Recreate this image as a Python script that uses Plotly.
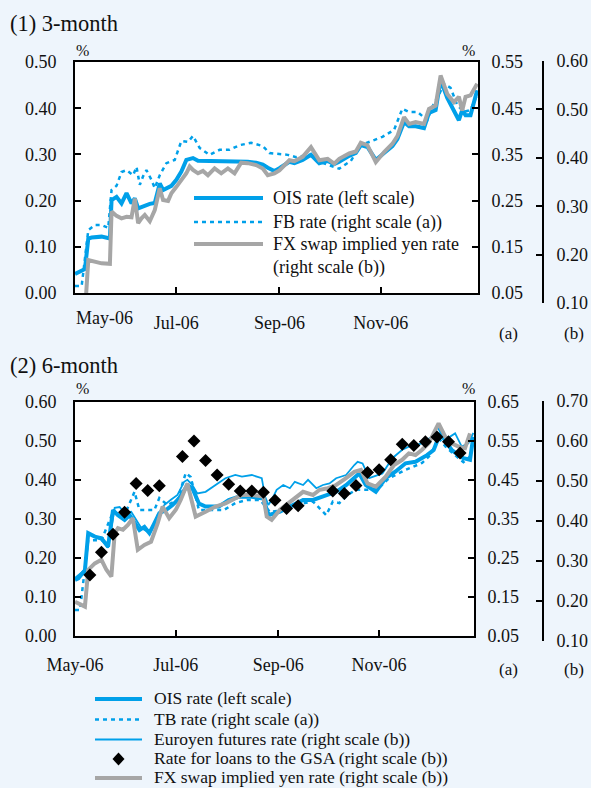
import plotly.graph_objects as go

BG = "#EEF5FC"
BLUE = "#00A0E9"
GRAY = "#A6A6A6"
INK = "#111111"
FONT = "Liberation Serif"

# ---------------- Panel (1) 3-month ----------------
p1_dates = ["2006-05-01", "2006-05-07", "2006-05-09", "2006-05-11", "2006-05-17", "2006-05-22", "2006-05-23", "2006-05-26", "2006-05-29",
            "2006-06-01", "2006-06-04", "2006-06-06", "2006-06-08", "2006-06-10", "2006-06-12", "2006-06-15", "2006-06-18", "2006-06-21", "2006-06-23", "2006-06-26", "2006-06-28",
            "2006-07-01", "2006-07-04", "2006-07-07", "2006-07-09", "2006-07-11", "2006-07-14", "2006-07-17", "2006-07-20", "2006-07-24", "2006-07-28",
            "2006-08-01", "2006-08-05", "2006-08-09", "2006-08-13", "2006-08-18", "2006-08-22", "2006-08-25", "2006-08-29",
            "2006-09-01", "2006-09-07", "2006-09-10", "2006-09-15", "2006-09-20", "2006-09-25", "2006-09-30",
            "2006-10-04", "2006-10-07", "2006-10-13", "2006-10-17", "2006-10-20", "2006-10-24", "2006-10-29",
            "2006-11-03", "2006-11-08", "2006-11-11", "2006-11-15", "2006-11-18", "2006-11-22", "2006-11-27", "2006-11-30",
            "2006-12-04", "2006-12-07", "2006-12-11", "2006-12-15", "2006-12-18", "2006-12-20", "2006-12-22", "2006-12-25", "2006-12-29"]
p1_ois = [0.041, 0.052, 0.118, 0.120, 0.122, 0.118, 0.201, 0.208, 0.194,
          0.216, 0.194, 0.205, 0.183, 0.186, 0.190, 0.193, 0.195, 0.237, 0.223, 0.228, 0.232,
          0.245, 0.263, 0.288, 0.291, 0.292, 0.286, 0.286, 0.285, 0.284, 0.286,
          0.286, 0.285, 0.284, 0.284, 0.282, 0.278, 0.271, 0.264,
          0.270, 0.284, 0.281, 0.288, 0.299, 0.281, 0.286,
          0.279, 0.284, 0.297, 0.303, 0.320, 0.316, 0.288,
          0.303, 0.318, 0.333, 0.370, 0.361, 0.361, 0.357, 0.390,
          0.396, 0.461, 0.422, 0.396, 0.374, 0.396, 0.385, 0.385, 0.439]
p1_fx = [0.080, 0.080, 0.189, 0.187, 0.182, 0.181, 0.289, 0.280, 0.275,
         0.278, 0.277, 0.316, 0.265, 0.275, 0.282, 0.269, 0.292, 0.337, 0.313, 0.311, 0.327,
         0.340, 0.354, 0.368, 0.382, 0.375, 0.368, 0.373, 0.364, 0.378, 0.368,
         0.378, 0.368, 0.390, 0.389, 0.385, 0.378, 0.364, 0.368,
         0.374, 0.395, 0.393, 0.402, 0.422, 0.395, 0.398,
         0.388, 0.398, 0.409, 0.413, 0.431, 0.426, 0.391,
         0.412, 0.429, 0.445, 0.484, 0.470, 0.474, 0.470, 0.501,
         0.508, 0.570, 0.532, 0.515, 0.526, 0.498, 0.526, 0.529, 0.553]
p1_fb_dates = ["2006-05-01", "2006-05-05", "2006-05-09", "2006-05-13", "2006-05-17", "2006-05-21", "2006-05-23", "2006-05-26", "2006-05-29",
               "2006-06-01", "2006-06-05", "2006-06-07", "2006-06-09", "2006-06-11", "2006-06-13", "2006-06-16", "2006-06-18", "2006-06-21", "2006-06-25", "2006-06-30",
               "2006-07-04", "2006-07-08", "2006-07-11", "2006-07-15", "2006-07-21", "2006-07-27",
               "2006-08-02", "2006-08-08", "2006-08-15", "2006-08-22", "2006-08-26", "2006-08-31",
               "2006-09-06", "2006-09-11", "2006-09-19", "2006-09-25",
               "2006-10-01", "2006-10-07", "2006-10-14", "2006-10-20", "2006-10-28",
               "2006-11-02", "2006-11-09", "2006-11-14", "2006-11-18", "2006-11-23", "2006-11-29",
               "2006-12-02", "2006-12-06", "2006-12-09", "2006-12-13", "2006-12-17", "2006-12-21", "2006-12-25", "2006-12-29"]
p1_fb = [0.065, 0.065, 0.186, 0.197, 0.197, 0.191, 0.273, 0.282, 0.312,
         0.316, 0.305, 0.323, 0.284, 0.303, 0.316, 0.295, 0.277, 0.305, 0.331, 0.338,
         0.379, 0.377, 0.390, 0.364, 0.349, 0.360,
         0.360, 0.370, 0.375, 0.368, 0.353, 0.351,
         0.349, 0.344, 0.349, 0.334,
         0.327, 0.319, 0.336, 0.370, 0.381,
         0.388, 0.403, 0.449, 0.442, 0.442, 0.424,
         0.453, 0.479, 0.503, 0.494, 0.457, 0.442, 0.446, 0.479]

# ---------------- Panel (2) 6-month ----------------
p2_ois_dates = ["2006-05-01", "2006-05-03", "2006-05-07", "2006-05-09", "2006-05-13", "2006-05-17", "2006-05-21", "2006-05-24", "2006-05-27", "2006-05-31",
                "2006-06-03", "2006-06-06", "2006-06-09", "2006-06-12", "2006-06-15", "2006-06-18", "2006-06-21", "2006-06-25", "2006-06-29",
                "2006-07-03", "2006-07-08", "2006-07-11", "2006-07-15", "2006-07-19", "2006-07-27",
                "2006-08-02", "2006-08-08", "2006-08-16", "2006-08-23", "2006-08-26", "2006-08-30",
                "2006-09-02", "2006-09-08", "2006-09-16", "2006-09-22", "2006-09-28",
                "2006-10-06", "2006-10-12", "2006-10-20", "2006-10-24", "2006-10-30",
                "2006-11-05", "2006-11-11", "2006-11-17", "2006-11-23", "2006-11-30",
                "2006-12-04", "2006-12-08", "2006-12-12", "2006-12-15", "2006-12-19", "2006-12-22", "2006-12-26", "2006-12-28"]
p2_ois = [0.143, 0.147, 0.168, 0.263, 0.254, 0.250, 0.228, 0.322, 0.309, 0.297,
          0.309, 0.288, 0.271, 0.279, 0.263, 0.288, 0.314, 0.322, 0.335,
          0.352, 0.386, 0.378, 0.339, 0.331, 0.331,
          0.348, 0.356, 0.356, 0.352, 0.309, 0.314,
          0.318, 0.331, 0.348, 0.348, 0.356,
          0.369, 0.386, 0.416, 0.386, 0.369,
          0.404, 0.421, 0.442, 0.446, 0.463,
          0.476, 0.519, 0.493, 0.476, 0.463, 0.455, 0.451, 0.510]
p2_tb_dates = ["2006-05-01", "2006-05-04", "2006-05-09", "2006-05-17", "2006-05-24", "2006-05-31",
               "2006-06-06", "2006-06-09", "2006-06-18", "2006-06-21", "2006-06-26",
               "2006-07-02", "2006-07-07", "2006-07-10", "2006-07-15", "2006-07-24", "2006-07-30",
               "2006-08-06", "2006-08-13", "2006-08-21", "2006-08-27",
               "2006-09-03", "2006-09-10", "2006-09-17", "2006-09-22", "2006-09-30",
               "2006-10-04", "2006-10-08", "2006-10-13", "2006-10-18", "2006-10-25",
               "2006-11-01", "2006-11-07", "2006-11-17", "2006-11-27",
               "2006-12-02", "2006-12-07", "2006-12-12", "2006-12-17", "2006-12-22", "2006-12-27"]
p2_tb = [0.116, 0.116, 0.295, 0.295, 0.367, 0.359,
         0.419, 0.372, 0.372, 0.403, 0.385,
         0.398, 0.467, 0.457, 0.372, 0.372, 0.372,
         0.390, 0.398, 0.398, 0.367,
         0.372, 0.385, 0.390, 0.394, 0.359,
         0.394, 0.390, 0.411, 0.424, 0.424,
         0.429, 0.454, 0.475, 0.493,
         0.513, 0.557, 0.531, 0.513, 0.495, 0.513]
p2_ey_dates = ["2006-05-01", "2006-05-07", "2006-05-09", "2006-05-13", "2006-05-17", "2006-05-21", "2006-05-25", "2006-05-28", "2006-05-31",
               "2006-06-04", "2006-06-07", "2006-06-10", "2006-06-14", "2006-06-17", "2006-06-20", "2006-06-24", "2006-06-28",
               "2006-07-02", "2006-07-06", "2006-07-08", "2006-07-11", "2006-07-14", "2006-07-19", "2006-07-25", "2006-07-31",
               "2006-08-06", "2006-08-10", "2006-08-16", "2006-08-22", "2006-08-24", "2006-08-26", "2006-08-28", "2006-08-31",
               "2006-09-04", "2006-09-08", "2006-09-11", "2006-09-16", "2006-09-19", "2006-09-24", "2006-09-28",
               "2006-10-02", "2006-10-06", "2006-10-12", "2006-10-17", "2006-10-19", "2006-10-22", "2006-10-26",
               "2006-11-03", "2006-11-09", "2006-11-15", "2006-11-19", "2006-11-27",
               "2006-12-03", "2006-12-06", "2006-12-11", "2006-12-17", "2006-12-21", "2006-12-25", "2006-12-28"]
p2_ey = [0.258, 0.278, 0.370, 0.360, 0.353, 0.333, 0.433, 0.435, 0.420,
         0.423, 0.403, 0.383, 0.373, 0.383, 0.415, 0.440, 0.453,
         0.465, 0.498, 0.503, 0.490, 0.469, 0.473, 0.490, 0.507,
         0.515, 0.511, 0.515, 0.507, 0.461, 0.440, 0.453, 0.478,
         0.490, 0.482, 0.498, 0.490, 0.503, 0.482, 0.490,
         0.494, 0.507, 0.515, 0.540, 0.548, 0.544, 0.507,
         0.519, 0.557, 0.578, 0.586, 0.594,
         0.611, 0.636, 0.603, 0.619, 0.586, 0.594, 0.620]
p2_gsa_dates = ["2006-05-10", "2006-05-17", "2006-05-24", "2006-05-31", "2006-06-07", "2006-06-14", "2006-06-21",
                "2006-07-05", "2006-07-12", "2006-07-19", "2006-07-26", "2006-08-02", "2006-08-09", "2006-08-16",
                "2006-08-23", "2006-08-30", "2006-09-06", "2006-09-13", "2006-10-04", "2006-10-11", "2006-10-18",
                "2006-10-25", "2006-11-01", "2006-11-08", "2006-11-15", "2006-11-22", "2006-11-29", "2006-12-06",
                "2006-12-13", "2006-12-20"]
p2_gsa = [0.265, 0.322, 0.367, 0.422, 0.494, 0.476, 0.488,
          0.561, 0.600, 0.551, 0.515, 0.492, 0.475, 0.475,
          0.472, 0.452, 0.431, 0.438, 0.475, 0.469, 0.489,
          0.521, 0.528, 0.553, 0.592, 0.589, 0.598, 0.610,
          0.598, 0.570]
p2_fx_dates = ["2006-05-01", "2006-05-07", "2006-05-09", "2006-05-13", "2006-05-17", "2006-05-20", "2006-05-23", "2006-05-25", "2006-05-27", "2006-05-30",
               "2006-06-02", "2006-06-05", "2006-06-08", "2006-06-12", "2006-06-16", "2006-06-20", "2006-06-23", "2006-06-27",
               "2006-07-01", "2006-07-04", "2006-07-08", "2006-07-13", "2006-07-19", "2006-07-25", "2006-07-31",
               "2006-08-06", "2006-08-10", "2006-08-16", "2006-08-23", "2006-08-25", "2006-08-28",
               "2006-09-02", "2006-09-08", "2006-09-12", "2006-09-16", "2006-09-22", "2006-09-26",
               "2006-10-01", "2006-10-06", "2006-10-12", "2006-10-17", "2006-10-21", "2006-10-25", "2006-10-30",
               "2006-11-05", "2006-11-10", "2006-11-15", "2006-11-19", "2006-11-23", "2006-11-27",
               "2006-12-01", "2006-12-05", "2006-12-07", "2006-12-11", "2006-12-15", "2006-12-19", "2006-12-23", "2006-12-26"]
p2_fx = [0.198, 0.186, 0.278, 0.294, 0.303, 0.278, 0.261, 0.369, 0.382, 0.378,
         0.390, 0.407, 0.328, 0.340, 0.348, 0.394, 0.436, 0.407,
         0.428, 0.453, 0.494, 0.411, 0.423, 0.436, 0.444,
         0.457, 0.465, 0.465, 0.461, 0.411, 0.403,
         0.428, 0.448, 0.461, 0.473, 0.465, 0.478,
         0.482, 0.490, 0.507, 0.523, 0.528, 0.494, 0.486,
         0.511, 0.540, 0.553, 0.569, 0.565, 0.578,
         0.594, 0.628, 0.644, 0.611, 0.594, 0.586, 0.582, 0.619]

x_tick_vals = ["2006-05-01", "2006-07-01", "2006-09-01", "2006-11-01"]
x_tick_text = ["May-06", "Jul-06", "Sep-06", "Nov-06"]
p1_left_ticks = [0.0, 0.1, 0.2, 0.3, 0.4, 0.5]
p1_a_ticks = [0.05, 0.15, 0.25, 0.35, 0.45, 0.55]
p1_b_ticks = [0.1, 0.2, 0.3, 0.4, 0.5, 0.6]
p2_left_ticks = [0.0, 0.1, 0.2, 0.3, 0.4, 0.5, 0.6]
p2_a_ticks = [0.05, 0.15, 0.25, 0.35, 0.45, 0.55, 0.65]
p2_b_ticks = [0.1, 0.2, 0.3, 0.4, 0.5, 0.6, 0.7]

legend1 = ["OIS rate (left scale)", "FB rate (right scale (a))", "FX swap implied yen rate<br>(right scale (b))"]
legend2 = ["OIS rate (left scale)", "TB rate (right scale (a))", "Euroyen futures rate (right scale (b))",
           "Rate for loans to the GSA (right scale (b))", "FX swap implied yen rate (right scale (b))"]

W, H = 591, 788
def px(x):
    return x / W
def py(y):
    return 1 - y / H

fig = go.Figure()
# panel 1
fig.add_trace(go.Scatter(x=p1_dates, y=p1_ois, xaxis="x", yaxis="y", mode="lines",
                         line=dict(color=BLUE, width=4), name="OIS"))
fig.add_trace(go.Scatter(x=p1_fb_dates, y=p1_fb, xaxis="x", yaxis="y2", mode="lines",
                         line=dict(color=BLUE, width=2.5, dash="4px,4px"), name="FB"))
fig.add_trace(go.Scatter(x=p1_dates, y=p1_fx, xaxis="x", yaxis="y3", mode="lines",
                         line=dict(color=GRAY, width=4), name="FX"))
# panel 2
fig.add_trace(go.Scatter(x=p2_ois_dates, y=p2_ois, xaxis="x2", yaxis="y5", mode="lines",
                         line=dict(color=BLUE, width=4), name="OIS"))
fig.add_trace(go.Scatter(x=p2_tb_dates, y=p2_tb, xaxis="x2", yaxis="y6", mode="lines",
                         line=dict(color=BLUE, width=2.5, dash="4px,4px"), name="TB"))
fig.add_trace(go.Scatter(x=p2_ey_dates, y=p2_ey, xaxis="x2", yaxis="y7", mode="lines",
                         line=dict(color=BLUE, width=1.8), name="Euroyen"))
fig.add_trace(go.Scatter(x=p2_fx_dates, y=p2_fx, xaxis="x2", yaxis="y7", mode="lines",
                         line=dict(color=GRAY, width=4), name="FX"))
fig.add_trace(go.Scatter(x=p2_gsa_dates, y=p2_gsa, xaxis="x2", yaxis="y7", mode="markers",
                         marker=dict(symbol="diamond", size=10, color="black"), name="GSA"))
# empty traces that carry the stand-alone right scales (b)
fig.add_trace(go.Scatter(x=[], y=[], xaxis="x3", yaxis="y4", mode="lines", hoverinfo="skip"))
fig.add_trace(go.Scatter(x=[], y=[], xaxis="x4", yaxis="y8", mode="lines", hoverinfo="skip"))

tickfont = dict(family=FONT, size=18, color=INK)
common_axis = dict(showgrid=False, zeroline=False, ticks="inside", ticklen=6, tickwidth=2,
                   tickcolor="black", showline=True, linewidth=2, linecolor="black",
                   tickfont=tickfont, automargin=False)

def fmt(v):
    return ["%.2f" % t for t in v]

hidden_x = dict(visible=False, automargin=False, range=[0, 1], fixedrange=True)

layout = dict(
    template="none",
    width=W, height=H, autosize=False, margin=dict(l=0, r=0, t=0, b=0, pad=0, autoexpand=False),
    paper_bgcolor=BG, plot_bgcolor=BG, showlegend=False,
    font=dict(family=FONT, size=18, color=INK),
    xaxis=dict(common_axis, domain=[px(75), px(478)], anchor="y", type="date",
               range=["2006-05-01", "2006-12-29 12:00"], mirror=True,
               tickvals=x_tick_vals[1:], ticktext=x_tick_text[1:], ticklabelstandoff=12),
    yaxis=dict(common_axis, domain=[py(293), py(62)], anchor="x", range=[0, 0.5],
               tickvals=p1_left_ticks, ticktext=fmt(p1_left_ticks), ticklabelstandoff=13),
    yaxis2=dict(common_axis, overlaying="y", side="right", anchor="x", range=[0.05, 0.55],
                tickvals=p1_a_ticks, ticktext=fmt(p1_a_ticks), ticklabelstandoff=8),
    yaxis3=dict(overlaying="y", anchor="x", range=[0.1207, 0.598], visible=False, automargin=False),
    xaxis3=dict(hidden_x, domain=[px(538), px(542)], anchor="y4"),
    yaxis4=dict(common_axis, anchor="x3", side="right",
                domain=[py(303), py(61)], range=[0.1, 0.6],
                tickvals=p1_b_ticks, ticktext=fmt(p1_b_ticks), ticklabelstandoff=9),
    xaxis2=dict(common_axis, domain=[px(75), px(474)], anchor="y5", type="date",
                range=["2006-05-01", "2006-12-28 10:00"], mirror=True,
                tickvals=x_tick_vals, ticktext=x_tick_text, ticklabelstandoff=12),
    yaxis5=dict(common_axis, domain=[py(635.7), py(401.7)], anchor="x2", range=[0, 0.6],
                tickvals=p2_left_ticks, ticktext=fmt(p2_left_ticks), ticklabelstandoff=13),
    yaxis6=dict(common_axis, overlaying="y5", side="right", anchor="x2", range=[0.05, 0.65],
                tickvals=p2_a_ticks, ticktext=fmt(p2_a_ticks), ticklabelstandoff=8),
    yaxis7=dict(overlaying="y5", anchor="x2", range=[0.11325, 0.69825], visible=False, automargin=False),
    xaxis4=dict(hidden_x, domain=[px(538), px(542)], anchor="y8"),
    yaxis8=dict(common_axis, anchor="x4", side="right",
                domain=[py(641), py(401)], range=[0.1, 0.7],
                tickvals=p2_b_ticks, ticktext=fmt(p2_b_ticks), ticklabelstandoff=9),
)
fig.update_layout(**layout)

shapes = [
    dict(type="rect", xref="paper", yref="paper", x0=px(75), x1=px(478), y0=py(293), y1=py(62),
         fillcolor="white", line=dict(width=0), layer="below"),
    dict(type="rect", xref="paper", yref="paper", x0=px(75), x1=px(474), y0=py(635.7), y1=py(401.7),
         fillcolor="white", line=dict(width=0), layer="below"),
]
# legend samples, panel 1
shapes += [
    dict(type="line", xref="paper", yref="paper", x0=px(194), x1=px(263), y0=py(198), y1=py(198),
         line=dict(color=BLUE, width=4)),
    dict(type="line", xref="paper", yref="paper", x0=px(194), x1=px(263), y0=py(222), y1=py(222),
         line=dict(color=BLUE, width=2.5, dash="4px,4px")),
    dict(type="line", xref="paper", yref="paper", x0=px(194), x1=px(263), y0=py(244), y1=py(244),
         line=dict(color=GRAY, width=4)),
]
# legend samples, bottom
leg_rows = [698, 718.5, 738.5, 758, 777]
lx0, lx1 = px(95), px(142)
shapes += [
    dict(type="line", xref="paper", yref="paper", x0=lx0, x1=lx1, y0=py(leg_rows[0] + 1), y1=py(leg_rows[0] + 1),
         line=dict(color=BLUE, width=4)),
    dict(type="line", xref="paper", yref="paper", x0=lx0, x1=lx1, y0=py(leg_rows[1] + 1), y1=py(leg_rows[1] + 1),
         line=dict(color=BLUE, width=2.5, dash="4px,4px")),
    dict(type="line", xref="paper", yref="paper", x0=lx0, x1=lx1, y0=py(leg_rows[2] + 1), y1=py(leg_rows[2] + 1),
         line=dict(color=BLUE, width=1.8)),
    dict(type="path", xref="paper", yref="paper",
         path="M %f,%f L %f,%f L %f,%f L %f,%f Z" % (px(118.5), py(leg_rows[3] - 5.5), px(124.5), py(leg_rows[3] + 1),
                                                      px(118.5), py(leg_rows[3] + 7.5), px(112.5), py(leg_rows[3] + 1)),
         fillcolor="black", line=dict(width=0)),
    dict(type="line", xref="paper", yref="paper", x0=lx0, x1=lx1, y0=py(leg_rows[4] + 1), y1=py(leg_rows[4] + 1),
         line=dict(color=GRAY, width=4)),
]
fig.update_layout(shapes=shapes)

def ann(text, x, y, size=18, xanchor="left", yanchor="middle", align="left"):
    return dict(text=text, x=px(x), y=py(y), xref="paper", yref="paper", showarrow=False,
                xanchor=xanchor, yanchor=yanchor, align=align,
                font=dict(family=FONT, size=size, color=INK))

annotations = [
    ann("(1) 3-month", 8, 24, size=22.5),
    ann("(2) 6-month", 8, 365.5, size=22.5),
    ann("%", 82, 50, size=16, xanchor="center"),
    ann("%", 468, 50, size=16, xanchor="center"),
    ann("%", 82, 388, size=16, xanchor="center"),
    ann("%", 468, 388, size=16, xanchor="center"),
    ann("(a)", 508.5, 333, size=17, xanchor="center"),
    ann("(b)", 573.5, 333, size=17, xanchor="center"),
    ann("(a)", 508.5, 669, size=17, xanchor="center"),
    ann("(b)", 573.5, 669, size=17, xanchor="center"),
    ann("May-06", 104, 318, size=18, xanchor="center"),
    ann(legend1[0], 271, 198),
    ann(legend1[1], 271, 222),
    ann(legend1[2], 271, 256),
]
for txt, yy in zip(legend2, leg_rows):
    annotations.append(ann(txt, 152, yy, size=17.5))
fig.update_layout(annotations=annotations)

fig.write_html("out.html",
               config={"displayModeBar": False},
               post_script="document.body.style.margin='0px';"
                           "document.body.style.overflow='hidden';"
                           "document.body.style.background='%s';" % BG)
